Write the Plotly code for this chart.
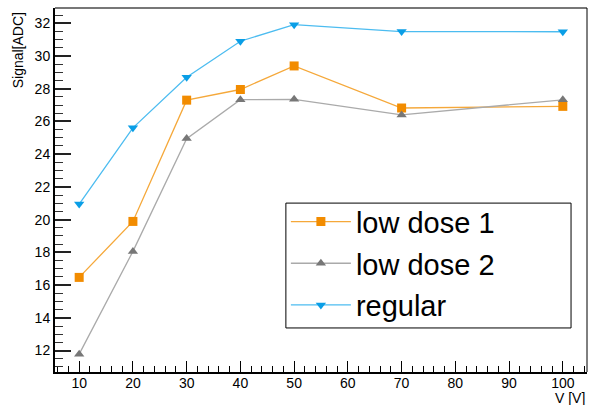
import plotly.graph_objects as go

voltage = [10, 20, 30, 40, 50, 70, 100]
low_dose_1 = [16.47, 19.89, 27.30, 27.95, 29.39, 26.82, 26.92]
low_dose_2 = [11.78, 18.06, 24.95, 27.33, 27.35, 26.40, 27.32]
regular = [20.95, 25.61, 28.70, 30.90, 31.91, 31.49, 31.48]

names = ["low dose 1", "low dose 2", "regular"]
FONT = "Liberation Sans, Arial, Helvetica, sans-serif"

fig = go.Figure()
fig.add_trace(go.Scatter(
    x=voltage, y=low_dose_1, name=names[0], mode="lines+markers",
    line=dict(color="#f5a83a", width=1.3),
    marker=dict(symbol="square", size=9, color="#f28c00"),
    legendgroup="a"))
fig.add_trace(go.Scatter(
    x=voltage, y=low_dose_2, name=names[1], mode="lines+markers",
    line=dict(color="#aaaaaa", width=1.3),
    marker=dict(symbol="triangle-up", size=9, color="#777777"),
    legendgroup="b"))
fig.add_trace(go.Scatter(
    x=voltage, y=regular, name=names[2], mode="lines+markers",
    line=dict(color="#4cbcf0", width=1.3),
    marker=dict(symbol="triangle-down", size=9, color="#0a9ee6"),
    legendgroup="c"))

fig.update_layout(
    width=589, height=405,
    margin=dict(l=55, r=2, t=8, b=33),
    paper_bgcolor="white", plot_bgcolor="white",
    font=dict(family=FONT, size=14, color="black"),
    showlegend=True,
    legend=dict(
        x=0.434, y=0.483, xanchor="left", yanchor="top",
        bgcolor="rgba(0,0,0,0)", borderwidth=0,
        font=dict(family=FONT, size=29, color="black"),
        itemwidth=60, tracegroupgap=1,
    ),
    xaxis=dict(
        range=[5.5, 104.5], tickmode="linear", tick0=10, dtick=10,
        ticks="inside", ticklen=11, tickwidth=1, tickcolor="black",
        minor=dict(dtick=2, tick0=10, ticks="inside", ticklen=6, tickwidth=1, tickcolor="black"),
        showgrid=False, zeroline=False,
        showline=True, linecolor="black", linewidth=2,
        tickfont=dict(size=14, family=FONT),
        ticklabelstandoff=-3,
    ),
    yaxis=dict(
        range=[10.69, 32.93], tickmode="linear", tick0=12, dtick=2,
        ticks="inside", ticklen=16, tickwidth=1.5, tickcolor="#222",
        minor=dict(dtick=0.5, tick0=12, ticks="inside", ticklen=8, tickwidth=1.2, tickcolor="#333"),
        showgrid=False, zeroline=False,
        showline=True, linecolor="black", linewidth=2,
        tickfont=dict(size=14, family=FONT),
    ),
    shapes=[
        dict(type="line", xref="paper", yref="paper", x0=0, x1=1, y0=1, y1=1,
             line=dict(color="#777777", width=2)),
        dict(type="line", xref="paper", yref="paper", x0=1, x1=1, y0=0, y1=1,
             line=dict(color="black", width=1)),
        dict(type="rect", xref="paper", yref="paper", x0=0.434, x1=0.970,
             y0=0.121, y1=0.464, layer="below", fillcolor="white",
             line=dict(color="black", width=1)),
    ],
    annotations=[
        dict(text="V [V]", xref="paper", yref="paper", x=1.0, y=-0.071,
             xanchor="right", yanchor="middle", showarrow=False,
             font=dict(size=14, family=FONT)),
        dict(text="Signal[ADC]", xref="paper", yref="paper", x=-0.0705, y=0.995,
             xanchor="center", yanchor="top", showarrow=False, textangle=-90,
             font=dict(size=14, family=FONT)),
    ],
)

fig.write_html("out.html")
